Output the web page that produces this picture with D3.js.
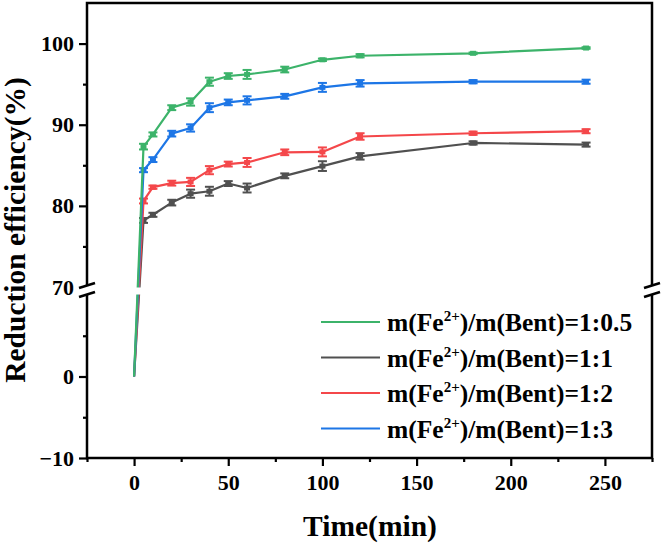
<!DOCTYPE html>
<html><head><meta charset="utf-8">
<script src="https://cdn.jsdelivr.net/npm/d3@7/dist/d3.min.js"></script>
<style>body{margin:0;background:#fff;} svg{display:block;} text{font-family:"Liberation Serif","Tinos","Times New Roman","DejaVu Serif",serif;}</style>
</head><body><svg id="c" width="663" height="546"></svg>
<script>
const times = [0, 5, 10, 20, 30, 40, 50, 60, 80, 100, 120, 180, 240];
const seriesNames = ["m(Fe2+)/m(Bent)=1:0.5", "m(Fe2+)/m(Bent)=1:1", "m(Fe2+)/m(Bent)=1:2", "m(Fe2+)/m(Bent)=1:3"];
const green = [0, 87.3, 88.8, 92.1, 92.8, 95.3, 96.0, 96.2, 96.8, 98.0, 98.5, 98.8, 99.45];
const greenErr = [0, 0.35, 0.25, 0.3, 0.45, 0.5, 0.35, 0.55, 0.35, 0.15, 0.2, 0.1, 0.1];
const gray = [0, 78.2, 78.9, 80.4, 81.5, 81.8, 82.75, 82.2, 83.7, 84.9, 86.1, 87.75, 87.55];
const grayErr = [0, 0.3, 0.25, 0.35, 0.5, 0.55, 0.3, 0.55, 0.3, 0.6, 0.4, 0.2, 0.25];
const red = [0, 80.6, 82.3, 82.8, 82.95, 84.4, 85.15, 85.35, 86.6, 86.65, 88.55, 88.95, 89.2];
const redErr = [0, 0.3, 0.2, 0.3, 0.5, 0.5, 0.3, 0.55, 0.35, 0.55, 0.4, 0.2, 0.25];
const blue = [0, 84.4, 85.7, 88.9, 89.6, 92.1, 92.75, 93.0, 93.5, 94.6, 95.1, 95.3, 95.3];
const blueErr = [0, 0.25, 0.3, 0.35, 0.45, 0.55, 0.35, 0.5, 0.3, 0.55, 0.4, 0.2, 0.25];
const colors = ["#3cb36a", "#505050", "#f4474a", "#1d76e6"];
const xTicks = [0, 50, 100, 150, 200, 250];
const xMinor = [-25, 25, 75, 125, 175, 225, 275];
const yUpperTicks = [70, 80, 90, 100];
const yUpperMinor = [75, 85, 95];
const yLowerTicks = [-10, 0];
const yLowerMinor = [-5, 5];

const svg = d3.select("#c");
const L = 87, R = 652, T = 3, B = 458;
const x = d3.scaleLinear().domain([-25, 275]).range([L, R]);
const yUp = d3.scaleLinear().domain([70, 105]).range([287, T]);
const yLo = d3.scaleLinear().domain([-10, 10]).range([B, 295]);
const y = v => v >= 60 ? yUp(v) : yLo(v);

const series = [
  {vals: gray, err: grayErr, c: colors[1]},
  {vals: red, err: redErr, c: colors[2]},
  {vals: blue, err: blueErr, c: colors[3]},
  {vals: green, err: greenErr, c: colors[0]}
];

const gData = svg.append("g");
const line = d3.line().x((d,i)=>x(times[i])).y(d=>y(d));
series.forEach(s => {
  gData.append("path").attr("d", line(s.vals)).attr("fill","none")
    .attr("stroke", s.c).attr("stroke-width", 2.2).attr("stroke-linejoin","round");
  s.vals.forEach((v,i) => {
    if (i === 0) return;
    const cx = x(times[i]);
    const y1 = y(v + s.err[i]), y2 = y(v - s.err[i]);
    gData.append("line").attr("x1",cx).attr("x2",cx).attr("y1",y1).attr("y2",y2).attr("stroke",s.c).attr("stroke-width",2);
    [y1,y2].forEach(yy => gData.append("line").attr("x1",cx-4.5).attr("x2",cx+4.5).attr("y1",yy).attr("y2",yy).attr("stroke",s.c).attr("stroke-width",2));
    gData.append("rect").attr("x",cx-3).attr("y",y(v)-2.5).attr("width",6).attr("height",5).attr("fill",s.c);
  });
});
svg.append("rect").attr("x", L+2).attr("y", 287.5).attr("width", R-L-4).attr("height", 7).attr("fill","#fff");

function styleAxis(g){
  g.attr("font-family", null);
  g.select(".domain").remove();
  g.selectAll("line").attr("stroke","#000").attr("stroke-width",2.2);
  g.selectAll("text").attr("font-weight","bold").attr("font-size",22).attr("fill","#000");
}
const gx = svg.append("g").attr("transform",`translate(0,${B})`)
  .call(d3.axisBottom(x).tickValues(xTicks).tickSize(8).tickPadding(8).tickFormat(d3.format("d")));
styleAxis(gx);
const gxm = svg.append("g").attr("transform",`translate(0,${B})`)
  .call(d3.axisBottom(x).tickValues(xMinor).tickSize(4).tickFormat(""));
styleAxis(gxm);
const gyu = svg.append("g").attr("transform",`translate(${L},0)`)
  .call(d3.axisLeft(yUp).tickValues(yUpperTicks).tickSize(8).tickPadding(5));
styleAxis(gyu);
const gyum = svg.append("g").attr("transform",`translate(${L},0)`)
  .call(d3.axisLeft(yUp).tickValues(yUpperMinor).tickSize(4).tickFormat(""));
styleAxis(gyum);
const gyl = svg.append("g").attr("transform",`translate(${L},0)`)
  .call(d3.axisLeft(yLo).tickValues(yLowerTicks).tickSize(8).tickPadding(5));
styleAxis(gyl);
const gylm = svg.append("g").attr("transform",`translate(${L},0)`)
  .call(d3.axisLeft(yLo).tickValues(yLowerMinor).tickSize(4).tickFormat(""));
styleAxis(gylm);
gyu.selectAll(".tick").filter(d=>d===70).select("line").remove();

svg.append("rect").attr("x",L).attr("y",T).attr("width",R-L).attr("height",B-T)
  .attr("fill","none").attr("stroke","#000").attr("stroke-width",2.5);

[L, R].forEach(ax => {
  svg.append("polygon").attr("points", `${ax-8},288 ${ax+8},283 ${ax+8},292 ${ax-8},297`).attr("fill","#fff");
  [[288,283],[297,292]].forEach(([ya,yb]) =>
    svg.append("line").attr("x1",ax-8).attr("x2",ax+8).attr("y1",ya).attr("y2",yb).attr("stroke","#000").attr("stroke-width",2.5));
});

const lg = svg.append("g");
[0,1,2,3].forEach((k,i) => {
  const yy = 322 + i*35.5;
  lg.append("line").attr("x1",321).attr("x2",380).attr("y1",yy).attr("y2",yy).attr("stroke",colors[k]).attr("stroke-width",2);
  const t = lg.append("text").attr("x",387).attr("y",yy+9).attr("font-weight","bold").attr("font-size",25.5).attr("fill","#000");
  const parts = seriesNames[k].split("2+");
  t.append("tspan").text(parts[0]);
  t.append("tspan").attr("dy",-10).attr("font-size",15).text("2+");
  t.append("tspan").attr("dy",10).text(parts[1]);
});

svg.append("text").attr("x",370).attr("y",536).attr("text-anchor","middle")
  .attr("font-weight","bold").attr("font-size",29.5).text("Time(min)");
svg.append("text").attr("transform","translate(25,230) rotate(-90)").attr("text-anchor","middle")
  .attr("font-weight","bold").attr("font-size",29.5).text("Reduction efficiency(%)");
</script></body></html>
